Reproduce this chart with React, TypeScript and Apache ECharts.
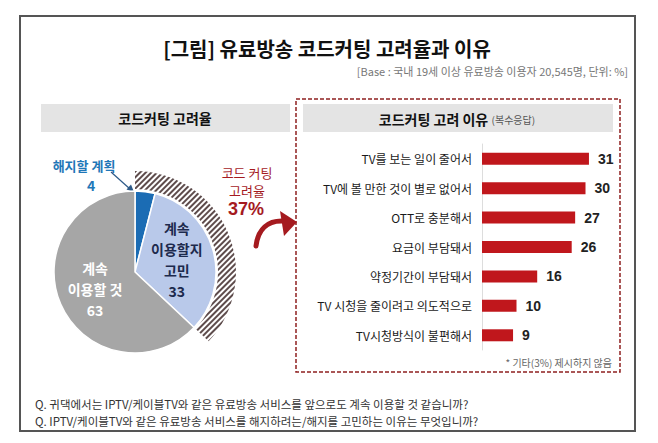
import { useEffect, useRef } from 'react';
import * as echarts from 'echarts';

const FONT = '"Noto Sans CJK KR", "Noto Sans", sans-serif';

const titleText = '[그림] 유료방송 코드커팅 고려율과 이유';
const baseText = '[Base : 국내 19세 이상 유료방송 이용자 20,545명, 단위: %]';
const leftHeader = '코드커팅 고려율';
const rightHeader = '코드커팅 고려 이유';
const rightHeaderNote = '(복수응답)';
const footnote = '* 기타(3%) 제시하지 않음';
const questions = [
  'Q. 귀댁에서는 IPTV/케이블TV와 같은 유료방송 서비스를 앞으로도 계속 이용할 것 같습니까?',
  'Q. IPTV/케이블TV와 같은 유료방송 서비스를 해지하려는/해지를 고민하는 이유는 무엇입니까?',
];

const pieNames = ['해지할 계획', '계속 이용할지 고민', '계속 이용할 것'];
const pieInsideLabels = ['', '계속\n이용할지\n고민', '계속\n이용할 것'];
const pieValues = [4, 33, 63];
const pieColors = ['#1b6cb4', '#b9c9ea', '#a6a6a6'];
const pieLabelColors = ['#1f77b8', '#1d2a4d', '#ffffff'];

const rateLabel = '코드 커팅\n고려율';

const reasonCategories = [
  'TV를 보는 일이 줄어서',
  'TV에 볼 만한 것이 별로 없어서',
  'OTT로 충분해서',
  '요금이 부담돼서',
  '약정기간이 부담돼서',
  'TV 시청을 줄이려고 의도적으로',
  'TV시청방식이 불편해서',
];
const reasonValues = [31, 30, 27, 26, 16, 10, 9];

export default function App() {
  const ref = useRef<HTMLDivElement>(null);
  useEffect(() => {
    const chart = echarts.init(ref.current!, null, { renderer: 'svg' });
    const considerRate = pieValues[0] + pieValues[1];
    const red = '#a51a1f';
    chart.setOption({
      animation: false,
      backgroundColor: '#ffffff',
      textStyle: { fontFamily: FONT },
      grid: { left: 482, top: 144, width: 138, height: 206, containLabel: false },
      xAxis: { type: 'value', min: 0, max: 40, show: false },
      yAxis: {
        type: 'category',
        inverse: true,
        data: reasonCategories,
        axisLine: { show: true, lineStyle: { color: '#dddddd', width: 1 } },
        axisTick: { show: false },
        axisLabel: { color: '#1a1a1a', fontSize: 12, fontFamily: FONT, margin: 10 },
      },
      series: [
        {
          type: 'bar',
          data: reasonValues,
          barWidth: 12,
          silent: true,
          itemStyle: { color: '#c0171c' },
          label: {
            show: true,
            position: 'right',
            distance: 9,
            color: '#222222',
            fontSize: 14,
            fontWeight: 'bold',
            fontFamily: 'Arial, "Liberation Sans", sans-serif',
          },
        },
        {
          type: 'pie',
          center: [135, 272],
          radius: [0, 81],
          startAngle: 90,
          clockwise: true,
          silent: true,
          itemStyle: { borderColor: '#ffffff', borderWidth: 1.5 },
          labelLine: { show: false },
          data: pieValues.map((v, i) => ({
            value: v,
            name: pieNames[i],
            itemStyle: { color: pieColors[i] },
            label: {
              show: i !== 0,
              position: 'inside',
              formatter: `${pieInsideLabels[i]}\n${v}`,
              color: pieLabelColors[i],
              fontSize: 14,
              fontWeight: 'bold',
              lineHeight: 21,
              fontFamily: FONT,
            },
          })),
        },
        {
          type: 'pie',
          center: [135, 272],
          radius: [83, 101],
          startAngle: 90,
          clockwise: true,
          silent: true,
          label: { show: false },
          labelLine: { show: false },
          data: [
            {
              value: considerRate,
              itemStyle: {
                color: '#ffffff',
                decal: {
                  symbol: 'rect',
                  symbolSize: 1,
                  color: '#5e4c4c',
                  dashArrayX: [1, 0],
                  dashArrayY: [1.2, 1.6],
                  rotation: -Math.PI / 4,
                },
              },
            },
            { value: pieValues[2], itemStyle: { color: 'rgba(0,0,0,0)' } },
          ],
        },
      ],
      graphic: [
        {
          type: 'rect',
          z: -10,
          shape: { x: 20, y: 16, width: 615, height: 415 },
          style: { fill: 'none', stroke: '#555555', lineWidth: 2 },
        },
        {
          type: 'text',
          x: 327,
          y: 48,
          style: {
            text: titleText,
            align: 'center',
            verticalAlign: 'middle',
            font: `bold 20px ${FONT}`,
            fill: '#111111',
          },
        },
        {
          type: 'text',
          x: 628,
          y: 71,
          style: {
            text: baseText,
            align: 'right',
            verticalAlign: 'middle',
            font: `11px ${FONT}`,
            fill: '#777777',
          },
        },
        {
          type: 'rect',
          z: -10,
          shape: { x: 41, y: 104, width: 249, height: 28 },
          style: { fill: '#e4e4e4' },
        },
        {
          type: 'text',
          x: 165,
          y: 118,
          style: {
            text: leftHeader,
            align: 'center',
            verticalAlign: 'middle',
            font: `bold 14px ${FONT}`,
            fill: '#111111',
          },
        },
        {
          type: 'rect',
          z: -10,
          shape: { x: 296, y: 99, width: 324, height: 273 },
          style: { fill: 'none', stroke: '#8f2020', lineWidth: 1.5, lineDash: [4, 2] },
        },
        {
          type: 'rect',
          z: -10,
          shape: { x: 303, y: 104, width: 310, height: 28 },
          style: { fill: '#e4e4e4' },
        },
        {
          type: 'text',
          x: 457,
          y: 119,
          style: {
            text: `{h|${rightHeader}} {n|${rightHeaderNote}}`,
            align: 'center',
            verticalAlign: 'middle',
            rich: {
              h: { font: `bold 14px ${FONT}`, fill: '#111111' },
              n: { font: `10px ${FONT}`, fill: '#555555' },
            },
          },
        },
        {
          type: 'text',
          x: 612,
          y: 362,
          style: {
            text: footnote,
            align: 'right',
            verticalAlign: 'middle',
            font: `10px ${FONT}`,
            fill: '#666666',
          },
        },
        {
          type: 'text',
          x: 84,
          y: 165,
          style: {
            text: pieNames[0],
            align: 'center',
            verticalAlign: 'middle',
            font: `bold 13px ${FONT}`,
            fill: pieLabelColors[0],
          },
        },
        {
          type: 'text',
          x: 91,
          y: 185,
          style: {
            text: String(pieValues[0]),
            align: 'center',
            verticalAlign: 'middle',
            font: `bold 14px ${FONT}`,
            fill: pieLabelColors[0],
          },
        },
        {
          type: 'line',
          shape: { x1: 111, y1: 172, x2: 130, y2: 189 },
          style: { stroke: '#2d5a88', lineWidth: 1.2 },
        },
        {
          type: 'polygon',
          shape: { points: [[134, 192], [126.5, 189.5], [131, 184.5]] },
          style: { fill: '#2d5a88' },
        },
        {
          type: 'text',
          x: 247,
          y: 181,
          style: {
            text: rateLabel,
            align: 'center',
            verticalAlign: 'middle',
            font: `13px ${FONT}`,
            lineHeight: 18,
            fill: red,
          },
        },
        {
          type: 'text',
          x: 246,
          y: 209,
          style: {
            text: `${considerRate}%`,
            align: 'center',
            verticalAlign: 'middle',
            font: `bold 18px Arial, "Liberation Sans", sans-serif`,
            fill: red,
          },
        },
        {
          type: 'bezierCurve',
          shape: { x1: 256, y1: 246, cpx1: 258, cpy1: 229, cpx2: 268, cpy2: 220, x2: 284, y2: 221 },
          style: { stroke: red, lineWidth: 5, fill: 'none', lineCap: 'round' },
        },
        {
          type: 'polygon',
          shape: { points: [[297, 222], [280, 211], [284, 236]] },
          style: { fill: red },
        },
        {
          type: 'text',
          x: 35,
          y: 404,
          style: {
            text: questions[0],
            align: 'left',
            verticalAlign: 'middle',
            font: `11.5px ${FONT}`,
            fill: '#333333',
          },
        },
        {
          type: 'text',
          x: 35,
          y: 421,
          style: {
            text: questions[1],
            align: 'left',
            verticalAlign: 'middle',
            font: `11.5px ${FONT}`,
            fill: '#333333',
          },
        },
      ],
    });
    return () => chart.dispose();
  }, []);
  return (
    <div
      ref={ref}
      style={{ position: 'absolute', left: 0, top: 0, width: 658, height: 443, background: '#fff' }}
    />
  );
}
